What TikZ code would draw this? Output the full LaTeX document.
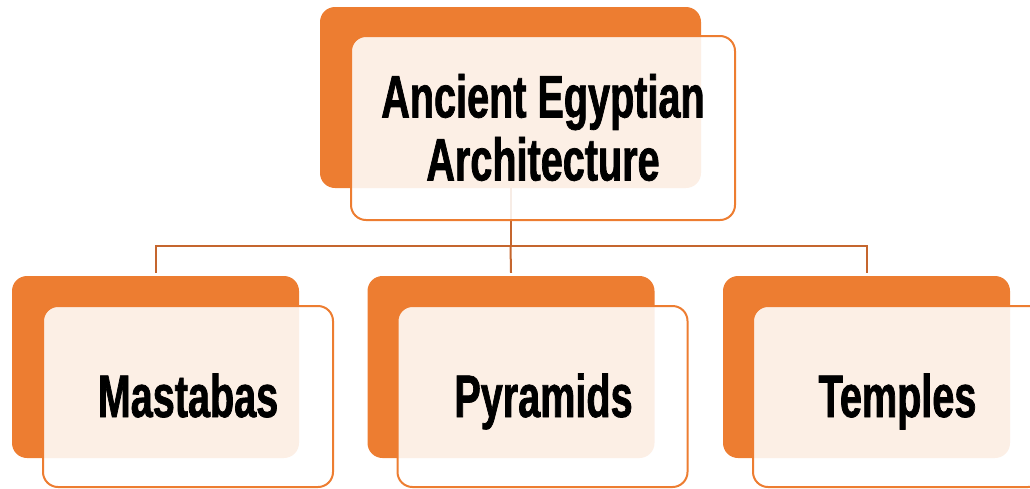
\documentclass[tikz,border=0pt]{standalone}
\usepackage{fontspec}
\newfontfamily\headfont{Liberation Sans}[FakeStretch=0.66, FakeBold=1.2]
\usetikzlibrary{positioning}
\definecolor{accent}{RGB}{237,125,49}
\definecolor{linkcol}{RGB}{197,102,46}

\begin{document}
\begin{tikzpicture}[x=1pt, y=-1pt]
  \tikzstyle{back}=[rectangle, rounded corners=15pt, fill=accent, inner sep=0pt]
  \tikzstyle{front}=[rectangle, rounded corners=15pt, draw=accent, line width=2pt, fill=white, fill opacity=0.88, inner sep=0pt]
  \tikzstyle{heading}=[font=\headfont\bfseries\fontsize{60}{63}\selectfont, align=center, inner sep=0pt, text=black]
  \tikzstyle{link}=[draw=linkcol, line width=2pt]
  \useasboundingbox (0,0) rectangle (1030,488);

  % orange backs
  \node (topback) [back, minimum width=381pt, minimum height=181pt] at (510.5,97.5) {};
  \node (mastback) [back, minimum width=287pt, minimum height=182pt] at (155.5,367) {};
  \node (pyrback) [back, minimum width=287pt, minimum height=182pt] at (511,367) {};
  \node (tempback) [back, minimum width=287pt, minimum height=182pt] at (866.5,367) {};

  % connectors
  \coordinate (bus) at (510.5,246);
  \draw[link] (topback.south) -- (bus);
  \draw[link] (bus) -| ([yshift=3pt]mastback.north);
  \draw[link] (bus) -| ([yshift=3pt]tempback.north);
  \draw[link] (bus) -- ([yshift=3pt]pyrback.north);

  % front boxes
  \node (topfront) [front, minimum width=384pt, minimum height=184pt] at (543,128) {};
  \node (mastfront) [front, minimum width=290pt, minimum height=181pt] at (188,396.5) {};
  \node (pyrfront) [front, minimum width=290pt, minimum height=181pt] at (542.5,396.5) {};
  \node (tempfront) [front, minimum width=290pt, minimum height=181pt] at (898,396.5) {};

  % texts
  \node (toptext) [heading] at (543,127.5) {Ancient Egyptian\\Architecture};
  \node (masttext) [heading, anchor=base] at (188,417) {Mastabas};
  \node (pyrtext) [heading, anchor=base] at (543.5,417) {Pyramids};
  \node (temptext) [heading, anchor=base] at (897.5,417) {Temples};
\end{tikzpicture}
\end{document}
